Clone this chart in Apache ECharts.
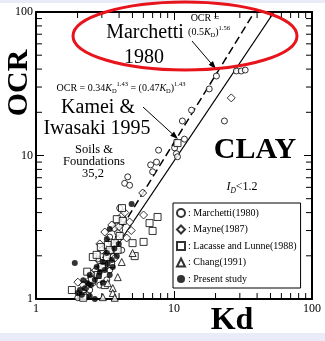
<!DOCTYPE html>
<html><head><meta charset="utf-8">
<script src="https://cdn.jsdelivr.net/npm/echarts@6/dist/echarts.min.js"></script>
<style>html,body{margin:0;padding:0;background:#fff}#c{width:325px;height:341px}</style>
</head><body><div id="c"></div>
<script>
// ---- data (Kd, OCR) ----
const marchettiKd  = [28.3,30.7,32.8,20.3,18.0,13.4,11.5,23.2,11.9,10.1,10.4,10.6,7.73,7.47,6.77,7.0,4.62,4.39,4.77,4.04,3.85,4.04,3.42,3.15,2.9,2.67,2.9,2.37,2.01,3.42,4.18,3.6,2.45,3.26,3.5,3.9,2.6,3.1,2.3,4.3,3.7,2.8];
const marchettiOcr = [38.8,38.8,39.4,35.8,29.1,20.7,17.4,17.4,13.0,11.3,10.3,9.8,10.9,9.0,8.6,7.7,7.1,6.4,6.2,4.3,3.23,3.03,2.7,2.27,1.81,1.47,1.25,1.07,1.02,1.59,2.19,1.99,1.155,1.36,2.5,2.9,1.3,1.7,1.2,3.6,3.1,1.9];
const mayneKd  = [26.0,5.93,6.02,2.01,3.54,3.91,3.15,3.0,3.31,2.71,2.45,2.26,3.72,4.54,4.77,4.18,2.9,4.4,3.6,3.3,2.5,4.0,2.2,3.7,4.9];
const mayneOcr = [25.2,5.48,3.85,1.31,3.28,2.58,2.93,2.19,1.73,1.59,1.36,1.05,1.93,2.66,3.44,3.79,2.42,4.0,2.2,2.05,1.5,3.2,1.25,2.35,3.0];
const lacasseKd  = [10.6,7.6,6.65,7.0,6.02,5.01,5.19,3.85,4.25,3.31,3.72,2.58,2.75,3.26,3.0,2.54,1.82,3.42,4.04,2.8,3.15,4.2,2.35,3.9,2.95,2.2,3.5];
const lacasseOcr = [12.2,3.73,3.38,2.98,2.5,2.45,1.99,3.6,3.5,2.38,2.45,1.96,2.03,1.96,1.67,1.36,1.155,2.19,2.75,1.47,1.25,4.3,1.55,2.2,2.3,1.02,1.75];
const changKd  = [5.01,3.6,3.91,3.05,3.6,3.72,3.31,4.18];
const changOcr = [2.09,1.19,1.42,1.03,1.1,1.02,1.29,1.81];
const presentKd  = [4.93,3.42,1.91,3.26,3.98,3.26,3.05,3.54,3.85,2.75,2.9,3.15,3.42,3.6,2.67,2.26,2.08,2.15,2.67,2.37,2.01,2.45,2.5,2.85,3.3,2.2,3.7,2.45,3.05];
const presentOcr = [4.59,3.07,1.78,2.62,2.42,2.09,1.81,1.87,1.99,1.67,1.54,1.59,1.47,1.67,1.36,1.19,1.155,1.07,1.0,1.29,1.1,1.47,1.25,1.45,1.75,1.35,2.25,1.05,1.3];
// correlation lines (end points, Kd, OCR)
const kameiLineKd = [2.13, 53.1];      // OCR = 0.34 Kd^1.43
const kameiLineOcr = [1, 100];
const marchettiLineKd = [2.0, 38.3];   // OCR = (0.5 Kd)^1.56
const marchettiLineOcr = [1, 100];
const seriesNames = ['Marchetti(1980)','Mayne(1987)','Lacasse and Lunne(1988)','Chang(1991)','Present study'];
const minorTicks = [2,3,4,5,6,7,8,9,20,30,40,50,60,70,80,90];

const serif = '"Liberation Serif","Times New Roman",serif';
const zip = (a,b)=>a.map((v,i)=>[v,b[i]]);
const openStyle = {color:'#fff', borderColor:'#000', borderWidth:1};

function arrow(x1,y1,x2,y2){
  const dx=x2-x1, dy=y2-y1, L=Math.hypot(dx,dy), ux=dx/L, uy=dy/L, h=8, w=2.8;
  const bx=x2-ux*h, by=y2-uy*h;
  return [
    {type:'line', z:50, shape:{x1,y1,x2:bx,y2:by}, style:{stroke:'#000',lineWidth:1}},
    {type:'polygon', z:50, shape:{points:[[x2,y2],[bx-uy*w,by+ux*w],[bx+uy*w,by-ux*w]]}, style:{fill:'#000'}}
  ];
}
function txt(x,y,text,font,extra){
  return {type:'text', z:60, x, y, style:Object.assign({text, fill:'#000', font, align:'center', verticalAlign:'middle'}, extra||{})};
}

const chart = echarts.init(document.getElementById('c'));
const axisLine = {show:true, onZero:false, lineStyle:{color:'#000', width:2}};
const xBase = {type:'log', logBase:10, min:1, max:100, splitLine:{show:false}, axisLine,
  axisTick:{inside:true, length:8, lineStyle:{color:'#000', width:1}}};
const yBase = {type:'log', logBase:10, min:1, max:100, splitLine:{show:false}, axisLine,
  axisTick:{inside:true, length:8, lineStyle:{color:'#000', width:1}}};

function tickSeries(axis){
  return {
    type:'custom', silent:true, clip:false, z:5,
    data: minorTicks.map(v=>[v]),
    renderItem(params, api){
      const v = api.value(0), len = 6, children=[];
      if(axis==='x'){
        const b = api.coord([v,1]), t = api.coord([v,100]);
        children.push({type:'line', shape:{x1:b[0],y1:b[1],x2:b[0],y2:b[1]-len}, style:{stroke:'#000',lineWidth:1}});
        children.push({type:'line', shape:{x1:t[0],y1:t[1],x2:t[0],y2:t[1]+len}, style:{stroke:'#000',lineWidth:1}});
      } else {
        const l = api.coord([1,v]), r = api.coord([100,v]);
        children.push({type:'line', shape:{x1:l[0],y1:l[1],x2:l[0]+len,y2:l[1]}, style:{stroke:'#000',lineWidth:1}});
        children.push({type:'line', shape:{x1:r[0],y1:r[1],x2:r[0]-len,y2:r[1]}, style:{stroke:'#000',lineWidth:1}});
      }
      return {type:'group', children};
    }
  };
}

const richSmall = {i:{fontStyle:'italic', fontSize:10, fontFamily:serif}, sub:{fontSize:6.5, fontFamily:serif, verticalAlign:'bottom', lineHeight:14}, sup:{fontSize:6.5, fontFamily:serif, verticalAlign:'top', lineHeight:14}};
const ocrLabel = txt(19,83,'OCR','bold 30px '+serif);
ocrLabel.rotation = Math.PI/2;

const graphics = [
  {type:'rect', z:-10, shape:{x:0,y:0,width:325,height:3}, style:{fill:'#e9ecf8'}},
  {type:'rect', z:-10, shape:{x:0,y:333,width:325,height:8}, style:{fill:'#e9ecf8'}},
  ocrLabel,
  txt(232,321,'Kd','bold 32px '+serif),
  txt(255,150,'CLAY','bold 30px '+serif),
  txt(145,33,'Marchetti','20px '+serif),
  txt(144,58,'1980','20px '+serif),
  txt(98,108,'Kamei &','20px '+serif),
  txt(97,129,'Iwasaki 1995','20px '+serif),
  txt(94,150,'Soils &','12.5px '+serif),
  txt(94,162,'Foundations','12.5px '+serif),
  txt(93,174,'35,2','12.5px '+serif),
  txt(205,18,'OCR =','10px '+serif),
  {type:'text', z:60, x:209, y:32, style:{text:'(0.5{i|K}{sub|D}){sup|1.56}', fill:'#000', font:'10px '+serif, align:'center', verticalAlign:'middle', rich:richSmall}},
  {type:'text', z:60, x:121, y:88, style:{text:'OCR = 0.34{i|K}{sub|D}{sup|1.43} = (0.47{i|K}{sub|D}){sup|1.43}', fill:'#000', font:'10px '+serif, align:'center', verticalAlign:'middle', rich:richSmall}},
  {type:'text', z:60, x:242, y:187, style:{text:'{i|I}{sub|D}<1.2', fill:'#000', font:'12px '+serif, align:'center', verticalAlign:'middle',
    rich:{i:{fontStyle:'italic', fontSize:12, fontFamily:serif}, sub:{fontStyle:'italic', fontSize:7.5, fontFamily:serif, verticalAlign:'bottom', lineHeight:16}}}},
  {type:'ellipse', z:70, shape:{cx:185, cy:36, rx:112, ry:34}, style:{fill:'none', stroke:'#e8141c', lineWidth:3}},
  ...arrow(192,41,216,69),
  ...arrow(143,107,178,139)
];

chart.setOption({
  animation:false,
  backgroundColor:'#fff',
  grid:{left:36, right:13, top:12, bottom:42, containLabel:false},
  xAxis:[
    Object.assign({}, xBase, {position:'bottom', axisLabel:{color:'#000', fontFamily:serif, fontSize:12, margin:4}}),
    Object.assign({}, xBase, {position:'top', axisLabel:{show:false}})
  ],
  yAxis:[
    Object.assign({}, yBase, {position:'left', axisLabel:{color:'#000', fontFamily:serif, fontSize:12, margin:3}}),
    Object.assign({}, yBase, {position:'right', axisLabel:{show:false}})
  ],
  legend:{
    left:173, top:203, orient:'vertical', itemWidth:8, itemHeight:8, itemGap:4.5, padding:[4,4,3,3],
    borderColor:'#000', borderWidth:1, backgroundColor:'#fff',
    data:seriesNames,
    formatter: n=>': '+n,
    textStyle:{fontFamily:serif, fontSize:10, color:'#000', lineHeight:12, padding:[0,0,0,-2]}
  },
  series:[
    tickSeries('x'), tickSeries('y'),
    {type:'line', data:zip(kameiLineKd,kameiLineOcr), symbol:'none', lineStyle:{color:'#000', width:1.3}, z:3, silent:true},
    {type:'line', data:zip(marchettiLineKd,marchettiLineOcr), symbol:'none', lineStyle:{color:'#000', width:1.5, type:[8,4]}, z:3, silent:true},
    {name:seriesNames[0], type:'scatter', symbol:'circle', symbolSize:6, itemStyle:openStyle, data:zip(marchettiKd,marchettiOcr), z:10},
    {name:seriesNames[1], type:'scatter', symbol:'diamond', symbolSize:8, itemStyle:openStyle, data:zip(mayneKd,mayneOcr), z:10},
    {name:seriesNames[2], type:'scatter', symbol:'rect', symbolSize:7, itemStyle:openStyle, data:zip(lacasseKd,lacasseOcr), z:10},
    {name:seriesNames[3], type:'scatter', symbol:'triangle', symbolSize:7, itemStyle:openStyle, data:zip(changKd,changOcr), z:10},
    {name:seriesNames[4], type:'scatter', symbol:'circle', symbolSize:6, itemStyle:{color:'#000'}, data:zip(presentKd,presentOcr), z:11}
  ],
  graphic:graphics
});
</script></body></html>
